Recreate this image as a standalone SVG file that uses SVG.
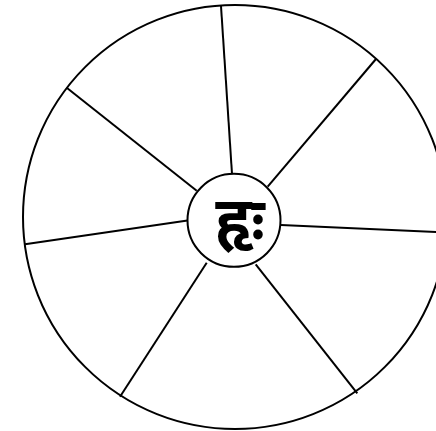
<svg xmlns="http://www.w3.org/2000/svg" width="436" height="431" viewBox="0 0 436 431">
<style>
.c{fill:none;stroke:#000;stroke-width:2}
.s{stroke:#000;stroke-width:2}
.t{font-family:"Noto Sans","Noto Sans Devanagari",sans-serif;font-size:62px;font-weight:bold;fill:#000;text-anchor:middle}
</style>
<rect width="436" height="431" fill="#fff"/>
<g id="outer"><circle class="c" cx="235" cy="217" r="212"/></g>
<g id="connectors">
<line class="s" x1="221" y1="6" x2="232" y2="174"/>
<line class="s" x1="376" y1="59" x2="267.7" y2="186.7"/>
<line class="s" x1="447" y1="232.5" x2="281" y2="225"/>
<line class="s" x1="357.3" y1="393.3" x2="255.7" y2="264.3"/>
<line class="s" x1="120" y1="396.7" x2="206.7" y2="262.7"/>
<line class="s" x1="25" y1="244.3" x2="187.5" y2="220.5"/>
<line class="s" x1="66.7" y1="87.7" x2="196.7" y2="190.7"/>
</g>
<g id="center">
<circle cx="234" cy="220.3" r="46.5" fill="#fff" stroke="#000" stroke-width="2"/>
<text class="t" x="240" y="242">हृः</text>
</g>
</svg>
